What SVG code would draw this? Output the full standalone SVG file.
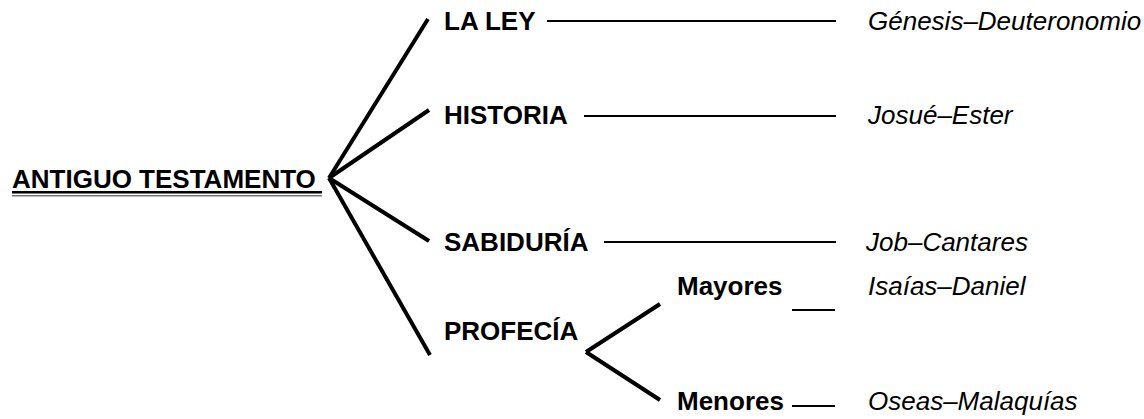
<svg xmlns="http://www.w3.org/2000/svg" width="1144" height="419" viewBox="0 0 1144 419">
<style>
.b{font-family:"Liberation Sans",Arial,sans-serif;font-weight:bold;font-size:26px;fill:#000}
.i{font-family:"Liberation Sans",Arial,sans-serif;font-style:italic;font-size:26px;fill:#000}
.br{stroke:#000;stroke-width:4;stroke-linecap:butt;fill:none}
.h{stroke:#000;stroke-width:2;fill:none}
</style>
<rect width="1144" height="419" fill="#fff"/>
<g id="connectors">
<line class="br" x1="329" y1="178" x2="428" y2="19"/>
<line class="br" x1="329" y1="178" x2="429" y2="110"/>
<line class="br" x1="329" y1="178" x2="429" y2="241"/>
<line class="br" x1="329" y1="178" x2="430" y2="355"/>
<line class="br" x1="586" y1="352" x2="660" y2="304"/>
<line class="br" x1="586" y1="352" x2="660" y2="400"/>
<line class="h" x1="547" y1="21" x2="836" y2="21"/>
<line class="h" x1="584" y1="116" x2="836" y2="116"/>
<line class="h" x1="604" y1="242" x2="836" y2="242"/>
<line class="h" x1="792" y1="310" x2="835" y2="310"/>
<line class="h" x1="792" y1="406" x2="835" y2="406" stroke-width="3"/>
</g>
<g id="root">
<text class="b" x="12" y="188">ANTIGUO TESTAMENTO</text>
<rect x="12" y="191" width="310" height="2.5" fill="#000"/>
<rect x="12" y="195" width="310" height="1.5" fill="#777"/>
</g>
<g id="ley"><text class="b" x="444" y="30">LA LEY</text><text class="i" x="868" y="30">Génesis–Deuteronomio</text></g>
<g id="historia"><text class="b" x="444" y="124">HISTORIA</text><text class="i" x="868" y="124">Josué–Ester</text></g>
<g id="sabiduria"><text class="b" x="444" y="251">SABIDURÍA</text><text class="i" x="866" y="251">Job–Cantares</text></g>
<g id="profecia"><text class="b" x="444" y="340">PROFECÍA</text></g>
<g id="mayores"><text class="b" x="677" y="295">Mayores</text><text class="i" x="868" y="295">Isaías–Daniel</text></g>
<g id="menores"><text class="b" x="677" y="410">Menores</text><text class="i" x="868" y="410">Oseas–Malaquías</text></g>
</svg>
